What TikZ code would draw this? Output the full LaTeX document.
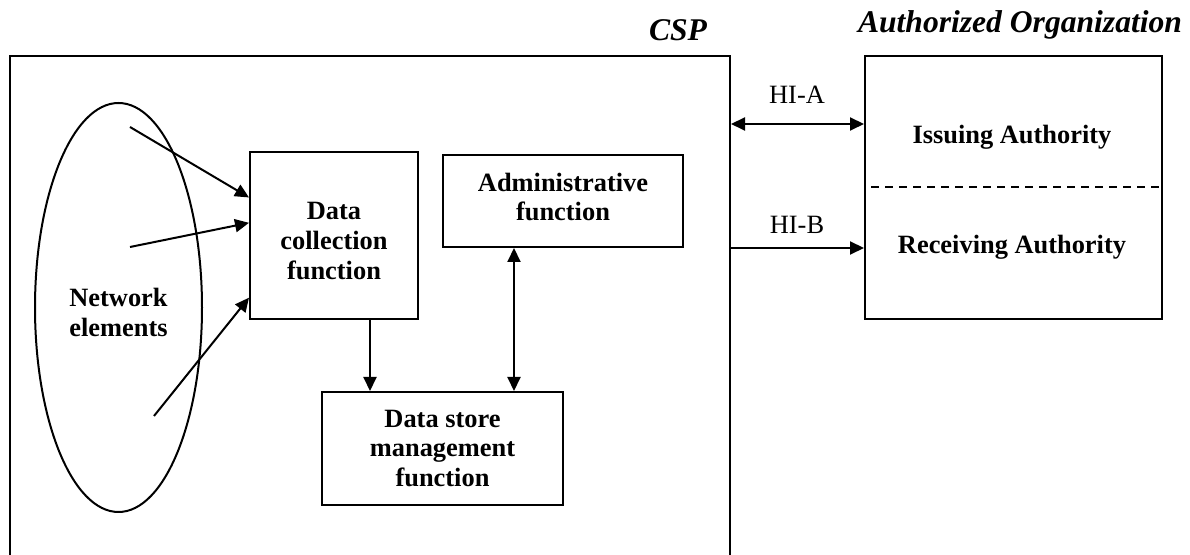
\documentclass[tikz,border=0pt]{standalone}
\usepackage{fontspec}
\setmainfont{Liberation Serif}
\usetikzlibrary{shapes.geometric,arrows.meta,calc}

\begin{document}
\begin{tikzpicture}[x=0.5pt, y=-0.5pt, line width=1pt, >={Triangle[length=7pt,width=6.5pt]},
  main/.style = {draw, rectangle, align=center, font=\fontsize{13.2}{14.8}\selectfont\bfseries},
  txt/.style = {align=center, font=\fontsize{13.2}{14.8}\selectfont\bfseries},
  elem/.style = {draw, ellipse, inner sep=0pt},
  head/.style = {font=\fontsize{15.8}{18}\selectfont\bfseries\itshape},
  hi/.style = {font=\fontsize{13.2}{15}\selectfont}]
\clip (0,0) rectangle (1190,555);

\node[main, minimum width=360pt, minimum height=259.5pt] (1) at (370,315.5) {};
\node[head] (10) at (678,30) {CSP};
\node[elem, minimum width=83.5pt, minimum height=204.5pt,
  label={[txt, yshift=-2.5pt]center:Network\\elements}] (2) at (118.5,307.5) {};
\node[main, minimum width=84pt, minimum height=83.5pt,
  label={[txt, yshift=-2.75pt]center:Data\\collection\\function}] (3) at (334,235.5) {};
\node[main, minimum width=120pt, minimum height=46pt,
  label={[txt, yshift=2pt]center:Administrative\\function}] (4) at (563,201) {};
\node[main, minimum width=120.5pt, minimum height=56.5pt] (5) at (442.5,448.5) {Data store\\management\\function};

\node[main, minimum width=148.5pt, minimum height=131.5pt] (6) at (1013.5,187.5) {};
\node[head] (11) at (1020,25) {Authorized Organization};
\node[txt] (7) at (1012,137) {Issuing Authority};
\node[txt] (8) at (1012,247) {Receiving Authority};
\draw[dash pattern=on 4pt off 3pt] ([xshift=3.5pt]6.west) -- (6.east);

\node[hi] (12) at (797,95) {HI-A};
\node[hi] (13) at (797,225) {HI-B};
\coordinate (14) at (797,124);
\coordinate (15) at (797,248);

\coordinate (21) at (130,127);
\coordinate (22) at (130,247);
\coordinate (23) at (154,416);

\draw[->] (21) -- ($(3.north west)!.275!(3.south west)$);
\draw[->] (22) -- ($(3.north west)!.425!(3.south west)$);
\draw[->] (23) -- ($(3.north west)!.868!(3.south west)$);
\draw[->] ([xshift=18pt]3.south) -- ([xshift=18pt]3.south |- 5.north);
\draw[<->] ([xshift=-24.5pt]4.south) -- ([xshift=-24.5pt]4.south |- 5.north);
\draw[<->] (1.east |- 14) -- (6.west |- 14);
\draw[->] (1.east |- 15) -- (6.west |- 15);

\end{tikzpicture}
\end{document}
